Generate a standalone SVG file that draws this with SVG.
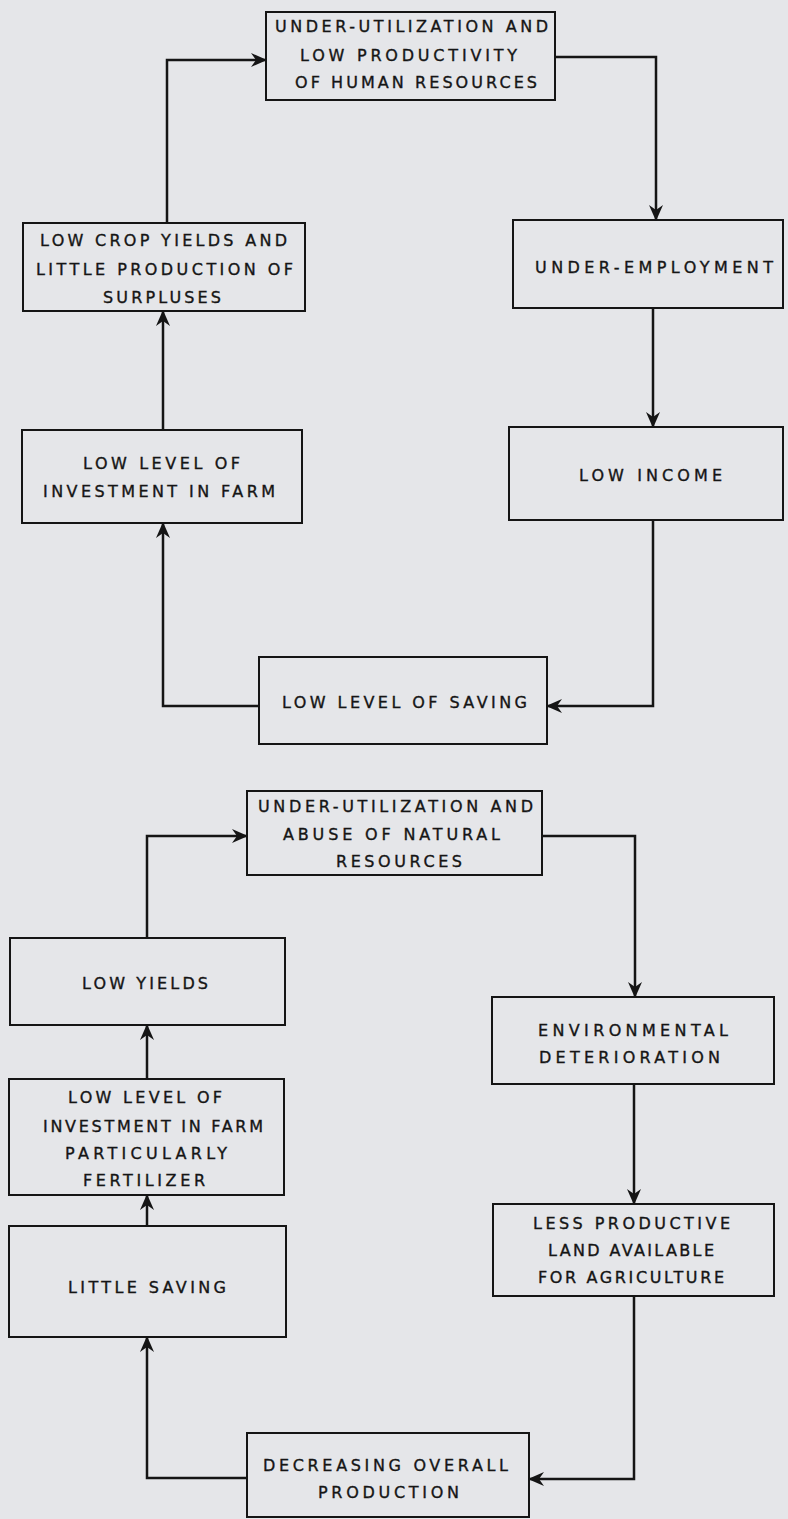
<svg xmlns="http://www.w3.org/2000/svg" width="788" height="1519" viewBox="0 0 788 1519">
  <style>
    .bg { fill: #e5e6e9; }
    .box { fill: none; stroke: #151515; stroke-width: 2; }
    .lbl { font-family: "DejaVu Sans", "Open Sans", "Liberation Sans", sans-serif; font-size: 16px; fill: #151515; stroke: #151515; stroke-width: 0.35; }
    .wire { fill: none; stroke: #151515; stroke-width: 2.5; stroke-linejoin: miter; }
  </style>
  <defs>
    <marker id="head" viewBox="0 0 16 16" refX="15" refY="8" markerWidth="16" markerHeight="16" markerUnits="userSpaceOnUse" orient="auto">
      <path d="M0,1 L16,8 L0,15 L5,8 z" fill="#151515"/>
    </marker>
  </defs>

  <rect class="bg" x="0" y="0" width="788" height="1519"/>

  <!-- Cycle of human resources -->
  <g id="human-resources">
    <rect class="box" x="266" y="12" width="289" height="88"/>
    <text class="lbl" x="275" y="32" textLength="273" lengthAdjust="spacing">UNDER-UTILIZATION AND</text>
    <text class="lbl" x="300" y="61" textLength="217" lengthAdjust="spacing">LOW PRODUCTIVITY</text>
    <text class="lbl" x="295" y="88" textLength="242" lengthAdjust="spacing">OF HUMAN RESOURCES</text>
  </g>
  <g id="crop-yields">
    <rect class="box" x="23" y="223" width="282" height="88"/>
    <text class="lbl" x="40" y="246" textLength="247" lengthAdjust="spacing">LOW CROP YIELDS AND</text>
    <text class="lbl" x="36" y="275" textLength="257" lengthAdjust="spacing">LITTLE PRODUCTION OF</text>
    <text class="lbl" x="103" y="303" textLength="118" lengthAdjust="spacing">SURPLUSES</text>
  </g>
  <g id="under-employment">
    <rect class="box" x="513" y="220" width="270" height="88"/>
    <text class="lbl" x="535" y="273" textLength="238" lengthAdjust="spacing">UNDER-EMPLOYMENT</text>
  </g>
  <g id="farm-investment">
    <rect class="box" x="22" y="430" width="280" height="93"/>
    <text class="lbl" x="83" y="469" textLength="157" lengthAdjust="spacing">LOW LEVEL OF</text>
    <text class="lbl" x="43" y="497" textLength="232" lengthAdjust="spacing">INVESTMENT IN FARM</text>
  </g>
  <g id="low-income">
    <rect class="box" x="509" y="427" width="274" height="93"/>
    <text class="lbl" x="579" y="481" textLength="143" lengthAdjust="spacing">LOW INCOME</text>
  </g>
  <g id="low-saving">
    <rect class="box" x="259" y="657" width="288" height="87"/>
    <text class="lbl" x="282" y="708" textLength="245" lengthAdjust="spacing">LOW LEVEL OF SAVING</text>
  </g>

  <!-- Cycle of natural resources -->
  <g id="natural-resources">
    <rect class="box" x="247" y="791" width="295" height="84"/>
    <text class="lbl" x="258" y="812" textLength="275" lengthAdjust="spacing">UNDER-UTILIZATION AND</text>
    <text class="lbl" x="283" y="840" textLength="217" lengthAdjust="spacing">ABUSE OF NATURAL</text>
    <text class="lbl" x="336" y="867" textLength="126" lengthAdjust="spacing">RESOURCES</text>
  </g>
  <g id="low-yields">
    <rect class="box" x="10" y="938" width="275" height="87"/>
    <text class="lbl" x="82" y="989" textLength="126" lengthAdjust="spacing">LOW YIELDS</text>
  </g>
  <g id="environment">
    <rect class="box" x="492" y="997" width="282" height="87"/>
    <text class="lbl" x="538" y="1036" textLength="190" lengthAdjust="spacing">ENVIRONMENTAL</text>
    <text class="lbl" x="539" y="1063" textLength="181" lengthAdjust="spacing">DETERIORATION</text>
  </g>
  <g id="fertilizer">
    <rect class="box" x="9" y="1079" width="275" height="116"/>
    <text class="lbl" x="68" y="1103" textLength="154" lengthAdjust="spacing">LOW LEVEL OF</text>
    <text class="lbl" x="43" y="1132" textLength="220" lengthAdjust="spacing">INVESTMENT IN FARM</text>
    <text class="lbl" x="65" y="1159" textLength="162" lengthAdjust="spacing">PARTICULARLY</text>
    <text class="lbl" x="83" y="1186" textLength="122" lengthAdjust="spacing">FERTILIZER</text>
  </g>
  <g id="less-land">
    <rect class="box" x="493" y="1204" width="281" height="92"/>
    <text class="lbl" x="533" y="1229" textLength="197" lengthAdjust="spacing">LESS PRODUCTIVE</text>
    <text class="lbl" x="548" y="1256" textLength="166" lengthAdjust="spacing">LAND AVAILABLE</text>
    <text class="lbl" x="538" y="1283" textLength="186" lengthAdjust="spacing">FOR AGRICULTURE</text>
  </g>
  <g id="little-saving">
    <rect class="box" x="9" y="1226" width="277" height="111"/>
    <text class="lbl" x="68" y="1293" textLength="158" lengthAdjust="spacing">LITTLE SAVING</text>
  </g>
  <g id="overall-production">
    <rect class="box" x="247" y="1433" width="282" height="84"/>
    <text class="lbl" x="263" y="1471" textLength="245" lengthAdjust="spacing">DECREASING OVERALL</text>
    <text class="lbl" x="318" y="1498" textLength="141" lengthAdjust="spacing">PRODUCTION</text>
  </g>

  <g id="connectors">
    <path class="wire" marker-end="url(#head)" d="M167,223 V60 H266"/>
    <path class="wire" marker-end="url(#head)" d="M555,57 H656 V220"/>
    <path class="wire" marker-end="url(#head)" d="M653,308 V427"/>
    <path class="wire" marker-end="url(#head)" d="M653,520 V706 H547"/>
    <path class="wire" marker-end="url(#head)" d="M259,706 H163 V523"/>
    <path class="wire" marker-end="url(#head)" d="M163,430 V311"/>

    <path class="wire" marker-end="url(#head)" d="M147,938 V836 H247"/>
    <path class="wire" marker-end="url(#head)" d="M542,836 H635 V997"/>
    <path class="wire" marker-end="url(#head)" d="M634,1084 V1204"/>
    <path class="wire" marker-end="url(#head)" d="M634,1296 V1479 H529"/>
    <path class="wire" marker-end="url(#head)" d="M247,1478 H147 V1337"/>
    <path class="wire" marker-end="url(#head)" d="M147,1226 V1195"/>
    <path class="wire" marker-end="url(#head)" d="M147,1079 V1025"/>
  </g>
</svg>
